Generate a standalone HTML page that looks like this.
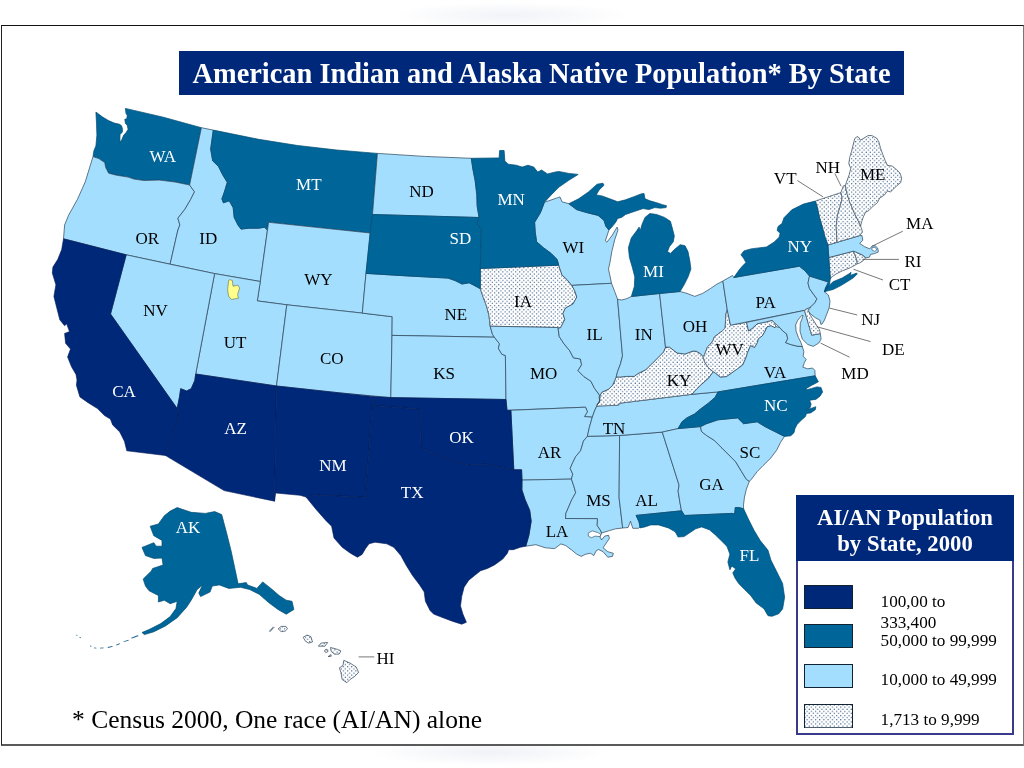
<!DOCTYPE html>
<html><head><meta charset="utf-8"><title>American Indian and Alaska Native Population By State</title>
<style>
html,body{margin:0;padding:0;background:#fff;}
body{width:1024px;height:768px;position:relative;overflow:hidden;font-family:"Liberation Serif","Times New Roman",serif;}
#shadow{position:absolute;left:370px;top:746px;width:240px;height:20px;background:radial-gradient(ellipse at 50% 30%,rgba(228,231,240,.55),rgba(255,255,255,0) 70%);}
#shadow2{position:absolute;left:390px;top:2px;width:240px;height:22px;background:radial-gradient(ellipse at 50% 60%,rgba(230,233,241,.55),rgba(255,255,255,0) 70%);}
#frame{position:absolute;left:1.1px;top:24.8px;width:1022.9px;height:721px;border-left:1.15px solid #222;border-top:1.2px solid #111;border-bottom:2px solid #5a5a5a;border-right:1px solid #777;box-sizing:border-box;}
#title{position:absolute;left:179px;top:51px;width:725px;height:44px;background:#00287a;color:#fff;font-weight:bold;font-size:28.4px;line-height:46.6px;text-align:center;white-space:nowrap;}
#map{position:absolute;left:0;top:0;}
#map text{font-family:"Liberation Serif",serif;font-size:17px;}
#legend{position:absolute;left:796px;top:495px;width:218px;height:239.5px;border:2px solid #3a3a8c;box-sizing:border-box;background:#fff;}
#lgh{position:absolute;left:-2px;top:-2px;right:-2px;height:65.6px;background:#00287a;color:#fff;font-weight:bold;font-size:22.7px;line-height:26.2px;text-align:center;padding-top:10.2px;box-sizing:border-box;}
.sw{position:absolute;left:5.6px;width:49px;height:24.3px;border:1px solid #123;box-sizing:border-box;}
.lt{position:absolute;left:82.6px;font-size:17.15px;line-height:18px;white-space:nowrap;color:#000;}
#foot{position:absolute;left:72px;top:705px;font-size:25.5px;line-height:30px;white-space:nowrap;color:#000;}
</style></head><body>
<div id="shadow"></div><div id="shadow2"></div>
<div id="frame"></div>
<svg id="map" width="1024" height="768" viewBox="0 0 1024 768">
<defs><pattern id="dots" width="4.2" height="4.2" patternUnits="userSpaceOnUse"><rect width="4.2" height="4.2" fill="#fff"/><circle cx="1.05" cy="1.05" r="0.6" fill="#1a4370"/><circle cx="3.15" cy="3.15" r="0.6" fill="#1a4370"/></pattern></defs>
<path d="M93.0,156.6 93.9,150.8 95.9,145.9 96.9,135.2 96.5,123.4 95.9,112.1 102.6,117.0 108.4,120.5 114.3,123.1 119.6,124.3 121.6,125.8 122.5,129.3 122.4,131.9 120.1,134.6 119.9,138.1 120.1,141.6 121.3,141.0 123.7,135.1 126.0,132.8 128.1,129.3 127.2,125.2 125.4,123.4 124.8,119.3 126.9,118.7 127.2,115.2 126.0,113.5 125.4,108.4 163.3,117.2 201.4,127.7 189.6,185.0 175.0,182.0 159.4,180.1 143.8,180.5 134.0,179.1 128.1,177.1 116.4,175.2 108.6,173.2 105.7,167.4 104.7,162.5 98.8,158.6 93.0,156.6Z" fill="#006699" stroke="#004a73" stroke-width="0.7" stroke-linejoin="round"/>
<path d="M93.0,156.6 85.2,182.0 77.3,199.6 68.6,215.2 64.6,225.0 63.5,238.8 126.2,254.8 170.1,264.2 177.9,230.0 179.9,225.0 177.9,218.2 184.8,209.4 190.6,199.6 194.5,191.8 189.6,185.0 175.0,182.0 159.4,180.1 143.8,180.5 134.0,179.1 128.1,177.1 116.4,175.2 108.6,173.2 105.7,167.4 104.7,162.5 98.8,158.6 93.0,156.6Z" fill="#A3DEFE" stroke="#2c4256" stroke-width="0.7" stroke-linejoin="round"/>
<path d="M201.4,127.7 213.3,130.1 210.7,149.1 212.7,160.8 218.6,166.6 222.5,174.5 227.3,182.3 224.4,192.0 221.9,198.9 223.4,202.8 229.3,200.8 233.2,207.7 234.2,217.4 238.1,225.2 241.0,229.1 248.8,228.2 258.6,228.2 264.5,227.2 267.4,230.1 260.3,281.5 214.6,273.6 170.1,264.2 177.9,230.0 179.9,225.0 177.9,218.2 184.8,209.4 190.6,199.6 194.5,191.8 189.6,185.0 201.4,127.7Z" fill="#A3DEFE" stroke="#2c4256" stroke-width="0.7" stroke-linejoin="round"/>
<path d="M213.3,130.1 258.6,139.3 297.7,145.5 336.7,150.0 377.4,153.4 372.5,214.5 370.2,233.0 268.6,222.3 267.4,230.1 264.5,227.2 258.6,228.2 248.8,228.2 241.0,229.1 238.1,225.2 234.2,217.4 233.2,207.7 229.3,200.8 223.4,202.8 221.9,198.9 224.4,192.0 227.3,182.3 222.5,174.5 218.6,166.6 212.7,160.8 210.7,149.1 213.3,130.1Z" fill="#006699" stroke="#004a73" stroke-width="0.7" stroke-linejoin="round"/>
<path d="M268.6,222.3 370.2,233.0 366.0,273.4 362.3,313.1 286.8,304.8 257.3,300.9 260.3,281.5Z" fill="#A3DEFE" stroke="#2c4256" stroke-width="0.7" stroke-linejoin="round"/>
<path d="M214.6,273.6 260.3,281.5 257.3,300.9 286.8,304.8 276.5,386.0 195.7,374.0Z" fill="#A3DEFE" stroke="#2c4256" stroke-width="0.7" stroke-linejoin="round"/>
<path d="M286.8,304.8 362.3,313.1 392.2,316.7 392.0,335.4 390.8,397.6 340.0,392.9 276.5,386.0Z" fill="#A3DEFE" stroke="#2c4256" stroke-width="0.7" stroke-linejoin="round"/>
<path d="M126.2,254.8 170.1,264.2 214.6,273.6 195.7,374.0 194.8,380.5 191.2,388.7 186.6,391.0 180.7,388.7 179.5,396.9 177.2,408.6 110.5,314.0Z" fill="#A3DEFE" stroke="#2c4256" stroke-width="0.7" stroke-linejoin="round"/>
<path d="M377.4,153.4 424.5,156.4 471.3,158.3 472.9,169.1 475.2,180.8 476.8,194.5 477.2,206.2 479.1,217.5 372.5,214.5Z" fill="#A3DEFE" stroke="#2c4256" stroke-width="0.7" stroke-linejoin="round"/>
<path d="M366.0,273.4 407.0,275.9 448.0,278.1 455.0,280.5 462.0,284.0 469.1,282.8 473.8,285.2 480.3,288.7 483.1,296.9 486.6,306.2 489.0,315.6 490.2,326.2 492.5,334.4 494.4,337.2 392.0,335.4 392.2,316.7 362.3,313.1Z" fill="#A3DEFE" stroke="#2c4256" stroke-width="0.7" stroke-linejoin="round"/>
<path d="M392.0,335.4 494.4,337.2 499.5,343.8 498.4,348.4 501.9,354.3 505.4,355.5 506.0,399.5 390.8,397.6Z" fill="#A3DEFE" stroke="#2c4256" stroke-width="0.7" stroke-linejoin="round"/>
<path d="M480.3,268.5 558.7,265.2 560.0,269.1 562.0,275.0 566.9,279.5 571.8,285.4 574.6,290.5 576.8,297.0 573.0,304.0 565.5,308.0 562.9,313.5 564.8,319.5 560.5,327.8 557.5,327.5 490.2,326.2 489.0,315.6 486.6,306.2 483.1,296.9 480.3,288.7Z" fill="#fff"/>
<path d="M480.3,268.5 558.7,265.2 560.0,269.1 562.0,275.0 566.9,279.5 571.8,285.4 574.6,290.5 576.8,297.0 573.0,304.0 565.5,308.0 562.9,313.5 564.8,319.5 560.5,327.8 557.5,327.5 490.2,326.2 489.0,315.6 486.6,306.2 483.1,296.9 480.3,288.7Z" fill="url(#dots)" stroke="#2c4256" stroke-width="0.7" stroke-linejoin="round"/>
<path d="M490.2,326.2 557.5,327.5 558.1,328.5 559.3,336.7 564.0,343.8 569.8,350.8 573.4,357.8 580.4,359.0 581.6,364.8 578.0,370.7 583.9,376.6 590.9,381.2 594.5,388.3 598.0,393.0 600.3,396.5 599.1,402.3 596.8,405.9 594.5,411.0 592.3,417.2 584.5,416.6 587.4,411.7 585.5,407.2 507.0,410.3 506.0,399.5 505.4,355.5 501.9,354.3 498.4,348.4 499.5,343.8 494.4,337.2 492.5,334.4Z" fill="#A3DEFE" stroke="#2c4256" stroke-width="0.7" stroke-linejoin="round"/>
<path d="M510.9,410.3 585.5,407.2 587.4,411.7 584.5,416.6 592.3,417.2 589.4,427.3 587.4,436.3 583.5,441.0 580.6,450.8 575.7,456.6 572.8,462.5 570.2,468.4 572.8,474.2 571.4,479.1 522.0,480.1 521.6,469.8 513.8,469.8Z" fill="#A3DEFE" stroke="#2c4256" stroke-width="0.7" stroke-linejoin="round"/>
<path d="M522.0,480.1 571.4,479.1 573.8,485.9 575.7,492.8 571.8,499.6 568.9,506.4 565.9,513.3 565.5,518.5 597.5,518.6 597.2,525.5 600.5,530.3 601.6,533.0 600.0,536.9 601.6,540.0 604.7,536.1 608.6,535.3 609.4,538.4 606.2,543.1 603.1,547.8 607.8,551.7 613.3,553.3 612.5,556.4 607.8,557.2 603.1,551.7 598.4,549.4 596.1,550.9 593.8,555.6 590.6,553.3 585.9,554.1 581.2,556.4 576.6,554.1 571.9,550.2 565.6,545.5 560.9,543.9 554.7,548.6 545.3,547.8 535.9,544.7 525.8,546.2 528.9,535.3 531.2,521.2 529.7,510.3 525.0,499.4 521.9,490.0 522.0,480.1Z" fill="#A3DEFE" stroke="#2c4256" stroke-width="0.7" stroke-linejoin="round"/>
<path d="M587.4,436.3 619.6,435.5 619.1,497.7 622.7,528.0 615.6,528.8 609.4,530.6 601.6,533.0 600.5,530.3 597.2,525.5 597.5,518.6 565.5,518.5 565.9,513.3 568.9,506.4 571.8,499.6 575.7,492.8 573.8,485.9 571.4,479.1 572.8,474.2 570.2,468.4 572.8,462.5 575.7,456.6 580.6,450.8 583.5,441.0 587.4,436.3Z" fill="#A3DEFE" stroke="#2c4256" stroke-width="0.7" stroke-linejoin="round"/>
<path d="M619.6,435.5 662.3,432.1 679.1,485.2 678.1,491.1 680.0,502.8 681.5,510.8 636.1,515.4 639.1,522.0 640.3,527.0 638.3,528.3 632.8,528.3 630.5,521.2 628.1,527.5 622.7,528.0 619.1,497.7Z" fill="#A3DEFE" stroke="#2c4256" stroke-width="0.7" stroke-linejoin="round"/>
<path d="M596.8,405.9 618.4,405.2 619.6,403.2 692.0,394.3 718.1,391.9 715.2,397.3 708.4,403.2 700.5,409.1 694.7,413.9 686.9,417.9 682.0,421.8 678.1,428.6 662.3,432.1 619.6,435.5 587.4,436.3 589.4,427.3 592.3,417.2 594.5,411.0Z" fill="#A3DEFE" stroke="#2c4256" stroke-width="0.7" stroke-linejoin="round"/>
<path d="M597.1,404.8 600.0,400.9 599.1,397.0 602.0,392.1 608.8,389.1 612.7,385.2 616.2,377.0 620.5,377.0 626.4,376.4 634.2,376.4 638.1,373.5 642.0,371.6 645.9,369.6 651.8,363.8 657.7,357.9 663.5,352.0 665.5,347.1 669.4,347.1 673.3,350.1 677.2,353.0 685.0,354.0 692.8,351.1 696.5,351.3 700.7,353.8 703.2,356.7 704.5,361.8 708.4,367.7 713.3,371.8 708.4,378.4 700.6,385.2 694.8,391.1 692.0,394.3 619.6,403.2 618.4,405.2 597.1,406.1Z" fill="#fff"/>
<path d="M597.1,404.8 600.0,400.9 599.1,397.0 602.0,392.1 608.8,389.1 612.7,385.2 616.2,377.0 620.5,377.0 626.4,376.4 634.2,376.4 638.1,373.5 642.0,371.6 645.9,369.6 651.8,363.8 657.7,357.9 663.5,352.0 665.5,347.1 669.4,347.1 673.3,350.1 677.2,353.0 685.0,354.0 692.8,351.1 696.5,351.3 700.7,353.8 703.2,356.7 704.5,361.8 708.4,367.7 713.3,371.8 708.4,378.4 700.6,385.2 694.8,391.1 692.0,394.3 619.6,403.2 618.4,405.2 597.1,406.1Z" fill="url(#dots)" stroke="#2c4256" stroke-width="0.7" stroke-linejoin="round"/>
<path d="M544.4,202.3 560.0,196.9 562.0,201.8 568.8,203.7 576.6,209.6 586.4,212.5 598.1,215.4 604.0,220.3 605.9,226.2 608.9,230.1 605.4,240.8 606.9,242.2 611.8,235.9 617.1,227.1 618.0,230.1 614.7,239.8 611.8,251.6 610.2,261.3 608.5,269.1 610.2,277.0 611.5,283.3 571.8,285.4 566.9,279.5 562.0,275.0 560.0,269.1 558.7,265.2 557.1,259.4 551.2,253.5 543.4,247.7 536.6,241.8 535.2,232.0 534.6,222.3 540.5,212.5 544.4,202.3Z" fill="#A3DEFE" stroke="#2c4256" stroke-width="0.7" stroke-linejoin="round"/>
<path d="M571.8,285.4 611.5,283.3 614.7,291.5 617.6,299.3 622.5,355.9 620.5,363.8 617.6,371.6 616.2,377.0 612.7,385.2 608.8,389.1 602.0,392.1 599.1,397.0 600.0,400.9 597.1,404.8 599.1,402.3 600.3,396.5 598.0,393.0 594.5,388.3 590.9,381.2 583.9,376.6 578.0,370.7 581.6,364.8 580.4,359.0 573.4,357.8 569.8,350.8 564.0,343.8 559.3,336.7 558.1,328.5 560.5,327.8 564.8,319.5 562.9,313.5 565.5,308.0 573.0,304.0 576.8,297.0 574.6,290.5 571.8,285.4Z" fill="#A3DEFE" stroke="#2c4256" stroke-width="0.7" stroke-linejoin="round"/>
<path d="M617.6,299.3 621.6,300.0 626.4,298.8 631.3,296.5 659.6,293.5 665.5,347.1 663.5,352.0 657.7,357.9 651.8,363.8 645.9,369.6 642.0,371.6 638.1,373.5 634.2,376.4 626.4,376.4 620.5,377.0 616.2,377.0 617.6,371.6 620.5,363.8 622.5,355.9 617.6,299.3Z" fill="#A3DEFE" stroke="#2c4256" stroke-width="0.7" stroke-linejoin="round"/>
<path d="M659.6,293.5 680.1,291.5 687.0,293.4 694.8,296.4 702.6,293.4 710.4,288.6 716.2,284.6 722.9,281.0 727.3,310.0 726.1,313.4 725.6,319.3 725.2,328.1 722.2,331.0 718.3,333.9 714.4,336.9 712.9,340.8 710.5,344.2 707.6,346.6 704.6,354.5 703.2,356.7 700.7,353.8 696.5,351.3 692.8,351.1 685.0,354.0 677.2,353.0 673.3,350.1 669.4,347.1 665.5,347.1Z" fill="#A3DEFE" stroke="#2c4256" stroke-width="0.7" stroke-linejoin="round"/>
<path d="M727.3,310.0 730.5,325.2 746.6,322.4 748.6,331.0 752.5,328.1 757.4,323.7 762.3,322.7 767.1,321.7 772.0,320.3 774.5,322.7 775.9,326.6 775.0,327.8 771.1,325.8 767.1,326.8 765.2,331.0 762.3,335.9 758.4,338.8 757.4,342.7 754.5,347.6 750.5,345.7 747.6,352.5 745.7,358.4 742.7,365.0 737.5,368.8 731.2,373.4 726.6,376.6 720.3,377.3 715.6,373.4 713.3,371.8 708.4,367.7 704.5,361.8 703.2,356.7 704.6,354.5 707.6,346.6 710.5,344.2 712.9,340.8 714.4,336.9 718.3,333.9 722.2,331.0 725.2,328.1 725.6,319.3 726.1,313.4 727.3,310.0Z" fill="#fff"/>
<path d="M727.3,310.0 730.5,325.2 746.6,322.4 748.6,331.0 752.5,328.1 757.4,323.7 762.3,322.7 767.1,321.7 772.0,320.3 774.5,322.7 775.9,326.6 775.0,327.8 771.1,325.8 767.1,326.8 765.2,331.0 762.3,335.9 758.4,338.8 757.4,342.7 754.5,347.6 750.5,345.7 747.6,352.5 745.7,358.4 742.7,365.0 737.5,368.8 731.2,373.4 726.6,376.6 720.3,377.3 715.6,373.4 713.3,371.8 708.4,367.7 704.5,361.8 703.2,356.7 704.6,354.5 707.6,346.6 710.5,344.2 712.9,340.8 714.4,336.9 718.3,333.9 722.2,331.0 725.2,328.1 725.6,319.3 726.1,313.4 727.3,310.0Z" fill="url(#dots)" stroke="#2c4256" stroke-width="0.7" stroke-linejoin="round"/>
<path d="M692.0,394.3 718.1,391.9 815.2,375.8 814.8,370.3 812.5,368.0 807.8,368.8 802.8,367.2 804.4,362.5 806.2,359.4 803.1,356.2 803.9,351.6 802.3,346.6 796.9,346.1 790.6,344.5 785.7,342.7 787.7,338.8 786.7,333.9 782.8,331.0 779.8,327.6 775.9,326.6 775.0,327.8 771.1,325.8 767.1,326.8 765.2,331.0 762.3,335.9 758.4,338.8 757.4,342.7 754.5,347.6 750.5,345.7 747.6,352.5 745.7,358.4 742.7,365.0 737.5,368.8 731.2,373.4 726.6,376.6 720.3,377.3 715.6,373.4 713.3,371.8 708.4,378.4 700.6,385.2 694.8,391.1 692.0,394.3Z" fill="#A3DEFE" stroke="#2c4256" stroke-width="0.7" stroke-linejoin="round"/>
<path d="M722.9,281.0 732.5,275.5 733.8,277.5 799.4,266.2 804.8,270.6 809.5,276.1 808.0,283.1 809.5,288.6 813.4,294.1 816.9,298.8 815.0,302.7 811.1,306.6 807.2,308.9 804.5,310.4 730.5,325.2 727.3,310.0Z" fill="#A3DEFE" stroke="#2c4256" stroke-width="0.7" stroke-linejoin="round"/>
<path d="M746.6,322.4 804.5,310.4 811.7,335.2 820.3,333.6 821.1,339.1 818.8,343.0 813.3,346.4 807.8,344.5 802.3,339.1 800.0,331.2 800.3,323.4 803.1,315.6 801.6,315.6 797.7,320.3 795.6,325.0 796.1,331.2 798.4,337.5 800.8,342.2 802.3,346.6 796.9,346.1 790.6,344.5 785.7,342.7 787.7,338.8 786.7,333.9 782.8,331.0 779.8,327.6 774.5,322.7 772.0,320.3 767.1,321.7 762.3,322.7 757.4,323.7 752.5,328.1 748.6,331.0Z" fill="#A3DEFE" stroke="#2c4256" stroke-width="0.7" stroke-linejoin="round"/>
<path d="M804.5,310.4 807.8,308.2 809.4,313.3 812.5,318.8 816.4,325.0 819.5,329.7 820.3,333.6 811.7,335.2Z" fill="#fff"/>
<path d="M804.5,310.4 807.8,308.2 809.4,313.3 812.5,318.8 816.4,325.0 819.5,329.7 820.3,333.6 811.7,335.2Z" fill="url(#dots)" stroke="#2c4256" stroke-width="0.7" stroke-linejoin="round"/>
<path d="M809.5,276.1 828.5,282.0 826.3,287.5 824.5,291.9 828.4,295.0 830.0,301.2 829.2,307.5 826.9,313.8 824.5,320.0 822.2,323.9 820.9,324.4 819.8,320.0 815.2,317.7 810.5,313.8 808.1,310.6 811.1,306.6 815.0,302.7 816.9,298.8 813.4,294.1 809.5,288.6 808.0,283.1 809.5,276.1Z" fill="#A3DEFE" stroke="#2c4256" stroke-width="0.7" stroke-linejoin="round"/>
<path d="M828.8,257.5 853.4,251.2 856.6,259.1 857.3,263.8 850.3,267.7 842.5,270.8 836.2,273.9 831.6,277.0 830.3,279.1 829.5,268.0Z" fill="#fff"/>
<path d="M828.8,257.5 853.4,251.2 856.6,259.1 857.3,263.8 850.3,267.7 842.5,270.8 836.2,273.9 831.6,277.0 830.3,279.1 829.5,268.0Z" fill="url(#dots)" stroke="#2c4256" stroke-width="0.7" stroke-linejoin="round"/>
<path d="M853.4,251.2 855.8,252.0 862.8,255.2 865.6,258.3 862.8,260.9 859.7,263.0 857.3,263.8 856.6,259.1Z" fill="#fff"/>
<path d="M853.4,251.2 855.8,252.0 862.8,255.2 865.6,258.3 862.8,260.9 859.7,263.0 857.3,263.8 856.6,259.1Z" fill="url(#dots)" stroke="#2c4256" stroke-width="0.7" stroke-linejoin="round"/>
<path d="M827.9,245.0 837.0,242.3 859.7,235.6 862.0,235.6 862.8,240.3 859.7,243.4 864.4,246.6 869.8,248.9 872.2,245.8 875.3,245.8 877.7,248.1 878.4,252.0 874.5,253.6 870.6,254.4 869.4,257.2 865.9,257.8 862.8,255.2 855.8,252.0 853.4,251.2 828.8,257.5Z" fill="#A3DEFE" stroke="#2c4256" stroke-width="0.7" stroke-linejoin="round"/>
<path d="M815.2,201.1 840.9,192.6 842.2,198.1 839.8,207.5 837.5,215.3 836.2,226.2 837.0,242.3 827.9,245.0 825.0,237.2 822.1,226.4 819.5,217.7 817.2,206.9 815.2,201.1Z" fill="#fff"/>
<path d="M815.2,201.1 840.9,192.6 842.2,198.1 839.8,207.5 837.5,215.3 836.2,226.2 837.0,242.3 827.9,245.0 825.0,237.2 822.1,226.4 819.5,217.7 817.2,206.9 815.2,201.1Z" fill="url(#dots)" stroke="#2c4256" stroke-width="0.7" stroke-linejoin="round"/>
<path d="M840.9,192.6 843.4,185.8 845.3,185.6 846.9,193.4 850.0,202.8 854.7,213.8 859.4,223.1 860.6,225.9 862.5,232.0 859.7,235.6 837.0,242.3 836.2,226.2 837.5,215.3 839.8,207.5 842.2,198.1Z" fill="#fff"/>
<path d="M840.9,192.6 843.4,185.8 845.3,185.6 846.9,193.4 850.0,202.8 854.7,213.8 859.4,223.1 860.6,225.9 862.5,232.0 859.7,235.6 837.0,242.3 836.2,226.2 837.5,215.3 839.8,207.5 842.2,198.1Z" fill="url(#dots)" stroke="#2c4256" stroke-width="0.7" stroke-linejoin="round"/>
<path d="M845.3,185.6 846.9,180.9 849.2,174.7 850.8,168.4 848.8,163.8 849.7,157.5 851.6,151.2 853.1,145.0 854.7,138.8 857.0,136.4 859.4,138.0 860.2,140.3 864.1,138.0 868.0,135.6 871.9,135.6 876.6,138.0 878.9,141.9 880.5,148.1 882.8,154.4 885.2,160.6 887.5,165.3 892.2,166.1 896.9,170.0 900.0,173.1 901.6,177.8 900.8,182.5 896.9,185.6 893.8,188.8 890.6,191.9 887.5,191.1 884.4,195.0 879.7,198.1 877.3,202.8 873.4,205.9 868.8,210.6 865.6,212.2 863.3,216.9 861.7,221.6 860.6,225.9 859.4,223.1 854.7,213.8 850.0,202.8 846.9,193.4 845.3,185.6Z" fill="#fff"/>
<path d="M845.3,185.6 846.9,180.9 849.2,174.7 850.8,168.4 848.8,163.8 849.7,157.5 851.6,151.2 853.1,145.0 854.7,138.8 857.0,136.4 859.4,138.0 860.2,140.3 864.1,138.0 868.0,135.6 871.9,135.6 876.6,138.0 878.9,141.9 880.5,148.1 882.8,154.4 885.2,160.6 887.5,165.3 892.2,166.1 896.9,170.0 900.0,173.1 901.6,177.8 900.8,182.5 896.9,185.6 893.8,188.8 890.6,191.9 887.5,191.1 884.4,195.0 879.7,198.1 877.3,202.8 873.4,205.9 868.8,210.6 865.6,212.2 863.3,216.9 861.7,221.6 860.6,225.9 859.4,223.1 854.7,213.8 850.0,202.8 846.9,193.4 845.3,185.6Z" fill="url(#dots)" stroke="#2c4256" stroke-width="0.7" stroke-linejoin="round"/>
<path d="M662.3,432.1 678.1,428.6 700.5,426.6 701.5,431.5 706.4,435.4 714.2,440.3 722.0,448.1 727.9,454.0 735.7,461.8 741.6,471.6 746.4,479.4 749.4,481.3 746.4,489.1 744.5,497.0 743.5,504.8 743.6,508.8 739.6,507.7 735.3,507.5 734.7,514.0 731.8,513.4 684.6,515.5 681.5,510.8 680.0,502.8 678.1,491.1 679.1,485.2 662.3,432.1Z" fill="#A3DEFE" stroke="#2c4256" stroke-width="0.7" stroke-linejoin="round"/>
<path d="M700.5,426.6 706.4,423.7 718.1,419.8 737.7,417.9 743.5,423.7 757.2,421.8 765.0,426.6 776.7,432.5 784.5,436.4 780.6,442.3 776.7,450.1 770.9,457.9 763.0,465.7 757.2,471.6 751.3,479.4 749.4,481.3 746.4,479.4 741.6,471.6 735.7,461.8 727.9,454.0 722.0,448.1 714.2,440.3 706.4,435.4 701.5,431.5 700.5,426.6Z" fill="#A3DEFE" stroke="#2c4256" stroke-width="0.7" stroke-linejoin="round"/>
<path d="M372.5,214.5 479.1,217.5 477.2,222.8 481.5,229.6 480.3,268.5 480.3,288.7 473.8,285.2 469.1,282.8 462.0,284.0 455.0,280.5 448.0,278.1 407.0,275.9 366.0,273.4 370.2,233.0Z" fill="#006699" stroke="#004a73" stroke-width="0.7" stroke-linejoin="round"/>
<path d="M471.3,158.3 499.1,157.9 499.6,150.5 504.1,150.5 504.9,161.2 508.4,164.2 516.2,165.2 522.1,167.1 528.0,165.2 533.8,167.1 537.7,172.0 541.6,170.0 547.5,173.9 555.3,172.0 559.0,171.5 568.8,173.4 578.2,174.4 568.8,180.3 559.0,187.1 551.2,194.9 544.4,202.3 540.5,212.5 534.6,222.3 535.2,232.0 536.6,241.8 543.4,247.7 551.2,253.5 557.1,259.4 558.7,265.2 480.3,268.5 481.5,229.6 477.2,222.8 479.1,217.5 477.2,206.2 476.8,194.5 475.2,180.8 472.9,169.1 471.3,158.3Z" fill="#006699" stroke="#004a73" stroke-width="0.7" stroke-linejoin="round"/>
<path d="M568.8,203.7 578.6,198.8 588.4,192.0 597.1,184.2 603.0,183.2 604.0,185.2 599.1,190.0 596.2,194.9 602.0,195.9 609.8,198.8 617.7,201.8 625.5,199.8 633.3,196.9 641.1,193.9 644.0,193.4 645.0,198.8 649.9,200.8 656.7,202.7 662.6,204.7 666.5,205.7 666.1,207.6 660.6,208.2 654.8,207.6 648.9,209.6 643.0,208.6 637.2,210.5 631.3,212.5 625.5,214.5 621.6,217.4 617.7,218.4 615.7,222.3 611.8,227.1 608.9,230.1 605.9,226.2 604.0,220.3 598.1,215.4 586.4,212.5 576.6,209.6 568.8,203.7ZM631.3,296.5 634.3,286.7 634.8,277.0 632.3,267.2 629.4,257.4 628.4,247.7 631.3,237.9 637.2,230.1 639.1,227.1 640.1,231.1 642.1,224.2 645.0,217.4 649.9,213.5 656.7,214.5 664.5,217.4 670.4,221.3 672.3,228.1 674.3,235.9 673.3,241.8 669.4,246.7 667.5,251.6 670.4,253.5 674.3,249.6 680.2,244.7 685.0,245.7 688.0,251.6 689.9,261.3 690.9,269.1 688.0,277.0 684.1,284.8 680.1,291.5 659.6,293.5Z" fill="#006699" stroke="#004a73" stroke-width="0.7" stroke-linejoin="round"/>
<path d="M815.2,201.1 817.2,206.9 819.5,217.7 822.1,226.4 825.0,237.2 827.9,245.0 828.8,257.5 829.5,268.0 830.3,279.1 829.6,284.0 826.6,289.5 824.3,292.0 825.3,288.0 828.5,282.0 809.5,276.1 804.8,270.6 799.4,266.2 733.8,277.5 739.1,270.0 742.0,266.5 745.9,262.6 743.9,258.7 741.0,254.8 743.9,250.9 750.8,248.9 758.6,247.9 766.4,247.0 774.2,242.1 779.1,237.2 780.1,233.3 777.1,230.4 778.1,226.4 782.0,223.5 784.0,217.7 791.8,209.8 803.5,204.0 815.2,201.1ZM826.5,288.0 833.1,281.7 842.5,277.8 848.8,273.9 851.1,272.3 850.3,275.5 856.6,273.1 857.3,273.9 853.4,277.8 847.2,281.7 840.9,285.6 833.1,289.5 826.9,291.1 824.5,291.9Z" fill="#006699" stroke="#004a73" stroke-width="0.7" stroke-linejoin="round"/>
<path d="M718.1,391.9 815.2,375.8 818.4,381.7 815.8,383.2 811.7,385.3 806.5,388.4 805.9,390.0 811.7,388.4 816.9,386.9 821.0,387.4 822.6,392.1 820.0,396.2 815.8,399.4 811.7,399.9 809.6,400.4 811.1,404.0 810.1,407.7 806.0,409.5 811.7,408.2 815.8,406.7 815.3,409.8 810.6,412.9 806.5,413.4 805.4,416.6 801.2,420.2 797.1,424.4 795.0,428.5 794.0,432.7 790.8,435.8 784.5,436.4 776.7,432.5 765.0,426.6 757.2,421.8 743.5,423.7 737.7,417.9 718.1,419.8 706.4,423.7 700.5,426.6 678.1,428.6 682.0,421.8 686.9,417.9 694.7,413.9 700.5,409.1 708.4,403.2 715.2,397.3 718.1,391.9Z" fill="#006699" stroke="#004a73" stroke-width="0.7" stroke-linejoin="round"/>
<path d="M636.1,515.4 681.5,510.8 684.6,515.5 731.8,513.4 734.7,514.0 735.3,507.5 739.6,507.7 743.6,508.8 748.4,519.1 754.3,530.8 760.2,540.5 768.0,550.3 770.9,560.1 776.8,571.8 782.6,583.5 784.6,597.2 782.6,608.9 778.7,613.8 771.9,616.3 768.0,615.7 764.1,608.9 756.2,603.0 750.4,595.2 744.5,589.4 738.7,583.5 734.8,577.7 732.8,572.8 735.7,568.9 731.8,565.9 729.9,569.8 727.9,562.0 729.9,554.2 727.0,546.4 721.1,540.5 715.2,534.7 709.4,529.8 701.6,526.9 695.7,528.8 689.8,532.7 684.0,536.6 678.1,537.0 675.2,531.8 668.4,527.9 658.6,524.9 650.8,524.9 644.9,526.9 640.0,527.9 639.1,522.0 636.1,515.4Z" fill="#006699" stroke="#004a73" stroke-width="0.7" stroke-linejoin="round"/>
<path d="M137.3,635.2 138.8,636.0 132.0,638.6 130.8,638.0ZM128.3,639.8 128.9,640.5 124.0,642.1 123.3,641.4ZM119.5,643.3 120.0,644.0 116.6,645.5 116.0,644.8ZM112.3,646.0 112.8,646.8 108.0,647.9 107.6,647.1ZM103.5,647.5 103.7,648.3 100.0,648.6 100.0,647.8ZM96.3,647.8 96.4,648.6 94.0,648.2 94.2,647.4ZM91.3,645.7 91.7,646.6 90.0,646.4 90.2,645.6ZM79.8,636.8 81.0,637.5 80.5,638.2 79.4,637.5ZM76.3,634.7 77.6,635.1 77.3,635.8 76.1,635.4Z" fill="#23668f"/>
<path d="M177.2,507.6 191.2,512.3 205.3,513.4 214.7,511.6 221.7,514.6 226.4,532.2 231.1,550.9 234.6,567.3 238.1,583.8 246.3,582.6 247.5,584.9 256.9,588.4 262.7,581.9 270.9,588.4 279.1,595.5 286.2,600.2 292.0,601.3 293.9,609.5 286.2,614.2 278.0,609.5 268.6,602.5 259.2,594.3 249.8,589.6 240.5,587.3 228.8,588.4 219.4,584.9 212.3,586.1 210.0,592.0 200.6,596.6 198.8,593.1 202.5,584.9 197.1,589.6 191.2,600.2 186.6,607.2 177.2,617.7 165.5,625.9 153.8,631.8 144.4,634.6 142.0,632.5 149.1,629.5 160.8,623.6 170.2,616.6 176.0,608.4 177.2,601.3 170.2,603.7 164.3,600.2 158.4,602.0 158.4,595.5 149.1,590.8 145.5,586.1 143.2,579.1 151.4,570.9 152.6,568.5 163.1,565.0 162.0,558.0 153.8,558.4 145.5,555.6 142.0,547.4 153.8,542.7 156.1,546.2 162.0,546.2 162.0,540.4 153.8,535.7 150.2,526.3 158.4,524.0 164.3,515.8 170.2,511.1Z" fill="#006699" stroke="#004a73" stroke-width="0.7" stroke-linejoin="round"/>
<path d="M63.5,238.8 61.7,249.5 57.8,259.3 52.9,267.1 52.3,273.0 55.9,284.7 53.9,296.4 56.8,308.1 59.8,319.8 64.6,325.7 66.6,323.8 69.5,331.6 64.6,333.5 65.6,343.3 70.5,349.1 67.6,357.0 71.5,366.7 76.0,374.5 77.0,380.0 76.4,385.2 79.9,396.9 88.1,402.7 97.5,408.6 104.5,415.6 110.4,419.1 112.7,425.0 119.8,432.0 124.5,441.4 126.8,450.8 165.5,455.5 167.8,448.4 171.3,439.1 174.8,429.7 178.4,418.0 177.2,408.6 110.5,314.0 126.2,254.8Z" fill="#002878" stroke="#001a55" stroke-width="0.6" stroke-linejoin="round"/>
<path d="M195.7,374.0 276.5,386.0 274.5,501.2 224.1,490.6 165.5,455.5 167.8,448.4 171.3,439.1 174.8,429.7 178.4,418.0 177.2,408.6 179.5,396.9 180.7,388.7 186.6,391.0 191.2,388.7 194.8,380.5 195.7,374.0Z" fill="#002878" stroke="#001a55" stroke-width="0.6" stroke-linejoin="round"/>
<path d="M276.5,386.0 340.0,392.9 373.0,396.4 372.2,405.4 365.4,497.2 318.0,495.0 306.0,497.0 300.0,495.3 275.6,493.0 274.5,501.2Z" fill="#002878" stroke="#001a55" stroke-width="0.6" stroke-linejoin="round"/>
<path d="M373.0,396.4 390.8,397.6 506.0,399.5 507.0,410.3 510.9,410.3 513.8,469.8 500.2,466.9 484.5,464.0 468.9,465.0 453.3,461.1 437.7,455.2 421.0,447.4 420.1,409.3 372.2,405.4Z" fill="#002878" stroke="#001a55" stroke-width="0.6" stroke-linejoin="round"/>
<path d="M372.2,405.4 420.1,409.3 421.0,447.4 437.7,455.2 453.3,461.1 468.9,465.0 484.5,464.0 500.2,466.9 513.8,469.8 521.6,469.8 522.0,480.1 521.9,490.0 525.0,499.4 529.7,510.3 531.2,521.2 528.9,535.3 525.8,546.2 520.3,547.3 513.3,549.7 508.6,549.7 507.4,553.2 502.7,559.1 494.5,564.9 487.5,568.4 480.5,570.8 474.6,575.5 468.8,580.2 464.1,587.2 461.7,596.6 460.5,605.9 462.9,614.1 466.4,622.3 461.7,624.2 452.3,621.2 443.0,617.7 433.6,614.1 430.1,610.6 425.4,601.2 424.2,591.9 419.5,584.8 412.5,575.5 406.6,566.1 400.8,555.5 393.8,547.3 386.7,543.8 375.0,542.2 369.1,543.8 365.6,548.5 362.1,554.4 357.4,557.2 350.4,553.2 342.2,547.3 334.0,538.0 331.6,526.2 325.8,520.4 316.4,509.8 306.0,497.0 318.0,495.0 365.4,497.2 372.2,405.4Z" fill="#002878" stroke="#001a55" stroke-width="0.6" stroke-linejoin="round"/>
<path d="M269.5,631.1 273.4,626.9 273.9,627.4 270.0,631.6ZM278.1,628.8 281.2,626.4 285.9,626.4 287.5,628.8 285.2,631.1 281.2,631.6ZM303.1,637.3 307.0,635.0 310.9,636.6 312.5,642.0 308.6,643.1 305.5,641.2ZM318.4,646.2 321.1,643.1 327.7,642.5 325.0,646.2ZM324.8,650.0 326.2,649.3 327.8,650.0 327.8,651.8 326.2,652.5 324.8,651.8ZM330.5,647.5 333.6,648.3 337.5,649.4 340.9,650.9 339.1,654.1 334.4,654.2 331.2,651.4ZM328.1,656.6 331.0,654.6 331.2,656.3ZM343.8,660.3 350.0,663.1 356.2,667.0 358.6,672.5 354.7,676.4 350.0,679.5 346.9,682.7 342.2,679.5 340.9,672.5 339.4,667.8 343.0,665.5Z" fill="#fff"/>
<path d="M269.5,631.1 273.4,626.9 273.9,627.4 270.0,631.6ZM278.1,628.8 281.2,626.4 285.9,626.4 287.5,628.8 285.2,631.1 281.2,631.6ZM303.1,637.3 307.0,635.0 310.9,636.6 312.5,642.0 308.6,643.1 305.5,641.2ZM318.4,646.2 321.1,643.1 327.7,642.5 325.0,646.2ZM324.8,650.0 326.2,649.3 327.8,650.0 327.8,651.8 326.2,652.5 324.8,651.8ZM330.5,647.5 333.6,648.3 337.5,649.4 340.9,650.9 339.1,654.1 334.4,654.2 331.2,651.4ZM328.1,656.6 331.0,654.6 331.2,656.3ZM343.8,660.3 350.0,663.1 356.2,667.0 358.6,672.5 354.7,676.4 350.0,679.5 346.9,682.7 342.2,679.5 340.9,672.5 339.4,667.8 343.0,665.5Z" fill="url(#dots)" stroke="#2c4256" stroke-width="0.7" stroke-linejoin="round"/>
<path d="M872.0,247.4 875.3,247.3 876.7,249.8 874.7,251.4 871.9,250.0ZM588.3,533.0 592.2,530.9 597.7,532.5 600.8,534.5 600.0,536.6 595.3,536.1 591.4,537.7 588.3,536.1Z" fill="#fff" stroke="#2c4256" stroke-width="0.6"/>
<path d="M228.7,280.3 230.0,279.6 232.4,280.6 233.0,286.2 237.8,285.2 239.6,288.0 237.6,294.5 238.4,298.2 231.4,299.5 228.5,296.0 227.6,289.5Z" fill="#ffff8c" stroke="#6b6b3a" stroke-width="0.6"/>
<text x="162.8" y="161.5" text-anchor="middle" fill="#fff">WA</text>
<text x="147.2" y="244.3" text-anchor="middle" fill="#000">OR</text>
<text x="208.2" y="244.3" text-anchor="middle" fill="#000">ID</text>
<text x="308.8" y="189.5" text-anchor="middle" fill="#fff">MT</text>
<text x="421.5" y="197.4" text-anchor="middle" fill="#000">ND</text>
<text x="460.4" y="244.3" text-anchor="middle" fill="#fff">SD</text>
<text x="511.2" y="205.2" text-anchor="middle" fill="#fff">MN</text>
<text x="318.3" y="284.5" text-anchor="middle" fill="#000">WY</text>
<text x="455.8" y="320.3" text-anchor="middle" fill="#000">NE</text>
<text x="523.0" y="307.4" text-anchor="middle" fill="#000">IA</text>
<text x="573.4" y="252.5" text-anchor="middle" fill="#000">WI</text>
<text x="653.5" y="276.6" text-anchor="middle" fill="#fff">MI</text>
<text x="594.6" y="339.9" text-anchor="middle" fill="#000">IL</text>
<text x="643.8" y="339.7" text-anchor="middle" fill="#000">IN</text>
<text x="695.0" y="331.5" text-anchor="middle" fill="#000">OH</text>
<text x="799.7" y="252.3" text-anchor="middle" fill="#fff">NY</text>
<text x="765.7" y="307.8" text-anchor="middle" fill="#000">PA</text>
<text x="729.6" y="355.0" text-anchor="middle" fill="#000">WV</text>
<text x="679.1" y="386.2" text-anchor="middle" fill="#000">KY</text>
<text x="775.0" y="378.1" text-anchor="middle" fill="#000">VA</text>
<text x="775.7" y="410.6" text-anchor="middle" fill="#fff">NC</text>
<text x="614.0" y="433.6" text-anchor="middle" fill="#000">TN</text>
<text x="749.9" y="457.5" text-anchor="middle" fill="#000">SC</text>
<text x="711.6" y="489.5" text-anchor="middle" fill="#000">GA</text>
<text x="646.5" y="506.4" text-anchor="middle" fill="#000">AL</text>
<text x="598.5" y="505.5" text-anchor="middle" fill="#000">MS</text>
<text x="549.6" y="457.6" text-anchor="middle" fill="#000">AR</text>
<text x="557.0" y="537.3" text-anchor="middle" fill="#000">LA</text>
<text x="543.7" y="379.4" text-anchor="middle" fill="#000">MO</text>
<text x="444.2" y="378.9" text-anchor="middle" fill="#000">KS</text>
<text x="331.8" y="363.5" text-anchor="middle" fill="#000">CO</text>
<text x="235.0" y="347.7" text-anchor="middle" fill="#000">UT</text>
<text x="155.5" y="315.9" text-anchor="middle" fill="#000">NV</text>
<text x="124.1" y="396.9" text-anchor="middle" fill="#fff">CA</text>
<text x="235.5" y="434.4" text-anchor="middle" fill="#fff">AZ</text>
<text x="333.0" y="470.5" text-anchor="middle" fill="#fff">NM</text>
<text x="461.6" y="442.5" text-anchor="middle" fill="#fff">OK</text>
<text x="412.2" y="498.1" text-anchor="middle" fill="#fff">TX</text>
<text x="188.0" y="532.9" text-anchor="middle" fill="#fff">AK</text>
<text x="749.4" y="560.5" text-anchor="middle" fill="#fff">FL</text>
<text x="385.5" y="663.9" text-anchor="middle" fill="#000">HI</text>
<text x="785.2" y="184.1" text-anchor="middle" fill="#000">VT</text>
<text x="827.8" y="173.1" text-anchor="middle" fill="#000">NH</text>
<text x="872.7" y="179.7" text-anchor="middle" fill="#000">ME</text>
<text x="919.8" y="228.5" text-anchor="middle" fill="#000">MA</text>
<text x="913.0" y="267.1" text-anchor="middle" fill="#000">RI</text>
<text x="899.5" y="290.3" text-anchor="middle" fill="#000">CT</text>
<text x="870.6" y="324.7" text-anchor="middle" fill="#000">NJ</text>
<text x="893.3" y="355.3" text-anchor="middle" fill="#000">DE</text>
<text x="855.0" y="379.4" text-anchor="middle" fill="#000">MD</text>
<line x1="797.3" y1="180.5" x2="823.1" y2="196.9" stroke="#555" stroke-width="0.8"/>
<line x1="834.8" y1="173.4" x2="841.1" y2="186.2" stroke="#555" stroke-width="0.8"/>
<line x1="902.8" y1="231.2" x2="872.3" y2="246.1" stroke="#555" stroke-width="0.8"/>
<line x1="898.9" y1="259.4" x2="862.2" y2="259.4" stroke="#555" stroke-width="0.8"/>
<line x1="883.0" y1="280.0" x2="853.4" y2="269.2" stroke="#555" stroke-width="0.8"/>
<line x1="857.3" y1="315.0" x2="829.2" y2="308.0" stroke="#555" stroke-width="0.8"/>
<line x1="870.6" y1="341.6" x2="816.7" y2="326.7" stroke="#555" stroke-width="0.8"/>
<line x1="849.5" y1="357.2" x2="820.6" y2="343.1" stroke="#555" stroke-width="0.8"/>
<line x1="358.6" y1="656.9" x2="374.2" y2="656.9" stroke="#555" stroke-width="0.8"/>
</svg>
<div id="title">American Indian and Alaska Native Population* By State</div>
<div id="legend"><div id="lgh">AI/AN Population<br>by State, 2000</div>
<div class="sw" style="top:87.7px;background:#002878"></div>
<div class="sw" style="top:127px;background:#006699"></div>
<div class="sw" style="top:166.5px;background:#A3DEFE"></div>
<svg class="sw" style="top:206.5px;border:none" width="49" height="24.3"><rect x="0.5" y="0.5" width="48" height="23.3" fill="url(#dots)" stroke="#123"/></svg>
<div class="lt" style="top:95.6px">100,00 to<br></div>
<div class="lt" style="top:117px">333,400</div>
<div class="lt" style="top:134.6px">50,000 to 99,999</div>
<div class="lt" style="top:174.4px">10,000 to 49,999</div>
<div class="lt" style="top:214.4px">1,713 to 9,999</div>
</div>
<div id="foot">* Census 2000, One race (AI/AN) alone</div>
</body></html>
